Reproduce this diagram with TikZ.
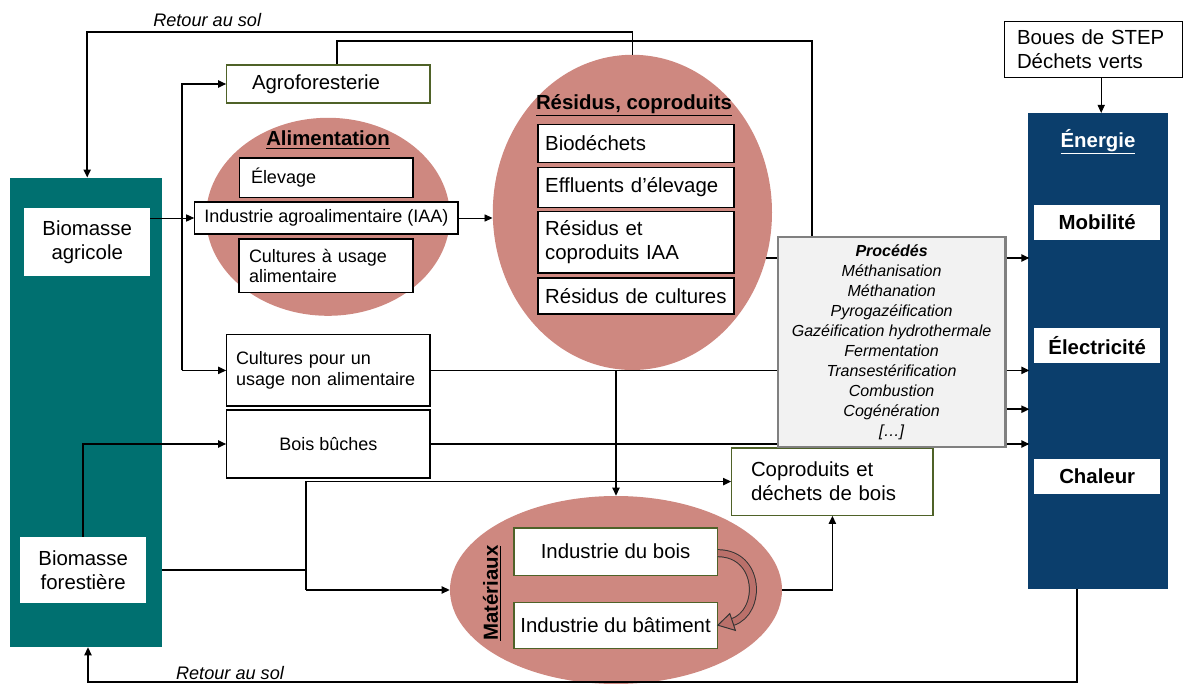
\documentclass[tikz,border=0pt]{standalone}
\usepackage{fontspec}
\setmainfont{Liberation Sans}
\usetikzlibrary{arrows.meta,positioning,shapes.geometric}

\definecolor{agriteal}{RGB}{0,112,112}
\definecolor{blobpink}{RGB}{206,136,128}
\definecolor{enernavy}{RGB}{11,62,108}
\definecolor{procgray}{RGB}{242,242,242}
\definecolor{procedge}{RGB}{128,128,128}
\definecolor{boxgreen}{RGB}{79,98,40}
\definecolor{curvpink}{RGB}{186,112,106}

\newcommand\mainsz{\fontsize{14.5}{17}\selectfont}
\newcommand\smallsz{\fontsize{12.8}{14.4}\selectfont}
\newcommand\procsz{\fontsize{11.4}{14.2}\selectfont}
\newcommand\retsz{\fontsize{12.9}{15}\selectfont}

\begin{document}
\begin{tikzpicture}[x=1cm,y=1cm]
\tikzset{
  pillar/.style={draw=none,inner sep=0pt},
  blob/.style={ellipse,fill=blobpink,draw=none,inner sep=0pt},
  whitebox/.style={fill=white,draw=none,align=center,font=\mainsz,inner sep=2pt},
  boxnode/.style={draw,line width=0.9pt,fill=white,align=left,font=\mainsz,inner sep=2pt},
  greenbox/.style={boxnode,draw=boxgreen},
  enerbox/.style={fill=white,draw=none,font=\mainsz\bfseries,minimum width=3.15cm,minimum height=0.88cm},
  titre/.style={font=\mainsz\bfseries,inner sep=1pt},
  retour/.style={font=\retsz\itshape,inner sep=1pt},
  flow/.style={-{Triangle[length=2mm,width=1.8mm]},line width=1.1pt},
  thinflow/.style={-{Triangle[length=2mm,width=1.8mm]},line width=0.6pt},
  link/.style={line width=1.1pt}
}
\useasboundingbox (0,0) rectangle (29.575,-17.10);

% colonnes
\node[pillar,fill=agriteal,minimum width=3.80cm,minimum height=11.73cm] (col) at (2.15,-10.31) {};
\node[pillar,fill=enernavy,minimum width=3.50cm,minimum height=11.90cm] (ener) at (27.45,-8.78) {};
\node[whitebox,minimum width=3.15cm,minimum height=1.70cm] (agri) at (2.18,-6.05) {Biomasse\\agricole};
\node[whitebox,minimum width=3.15cm,minimum height=1.65cm] (forest) at (2.08,-14.25) {Biomasse\\forestière};
\node[font=\mainsz\bfseries,text=white] (enertitle) at (27.45,-3.55) {\underline{Énergie}};
\node[enerbox] (mobil) at (27.43,-5.56) {Mobilité};
\node[enerbox] (elec) at (27.43,-8.64) {Électricité};
\node[enerbox] (chal) at (27.43,-11.91) {Chaleur};

% ellipses
\node[blob,minimum width=6.10cm,minimum height=4.95cm] (alim) at (8.20,-5.42) {};
\node[blob,minimum width=6.98cm,minimum height=7.88cm] (res) at (15.81,-5.31) {};
\node[blob,minimum width=8.30cm,minimum height=4.70cm] (mat) at (15.40,-14.75) {};
\node[titre] (alimtitle) at (8.20,-3.50) {\underline{Alimentation}};
\node[titre] (restitle) at (15.85,-2.63) {\underline{Résidus, coproduits}};
\node[titre,rotate=90] (mattitle) at (12.30,-14.83) {\underline{Matériaux}};

% boites
\node[greenbox,minimum width=5.08cm,minimum height=0.95cm,text width=3.82cm,inner xsep=0.63cm] (agro) at (8.21,-2.10) {Agroforesterie};
\node[boxnode,font=\smallsz,minimum width=4.33cm,minimum height=0.98cm,text width=3.77cm,inner xsep=0.28cm] (elev) at (8.16,-4.44) {Élevage};
\node[boxnode,font=\smallsz,minimum width=6.58cm,minimum height=0.80cm,align=center] (iaa) at (8.16,-5.45) {Industrie agroalimentaire (IAA)};
\node[boxnode,font=\smallsz,minimum width=4.35cm,minimum height=1.33cm,text width=3.85cm,inner xsep=0.25cm] (cualim) at (8.15,-6.64) {Cultures à usage\\alimentaire};
\node[boxnode,minimum width=4.90cm,minimum height=0.95cm,text width=4.54cm,inner xsep=0.18cm] (biod) at (15.90,-3.58) {Biodéchets};
\node[boxnode,minimum width=4.90cm,minimum height=1.00cm,text width=4.54cm,inner xsep=0.18cm] (effl) at (15.90,-4.68) {Effluents d’élevage};
\node[boxnode,minimum width=4.90cm,minimum height=1.53cm,text width=4.54cm,inner xsep=0.18cm] (resiaa) at (15.90,-6.06) {Résidus et\\coproduits IAA};
\node[boxnode,minimum width=4.90cm,minimum height=0.90cm,text width=4.54cm,inner xsep=0.18cm] (rescult) at (15.90,-7.40) {Résidus de cultures};
\node[boxnode,font=\smallsz,minimum width=5.08cm,minimum height=1.78cm,text width=4.62cm,inner xsep=0.23cm] (cnal) at (8.21,-9.26) {Cultures pour un\\usage non alimentaire};
\node[boxnode,font=\smallsz,minimum width=5.08cm,minimum height=1.70cm,align=center] (bois) at (8.21,-11.10) {Bois bûches};
\node[greenbox,minimum width=5.03cm,minimum height=1.68cm,text width=4.07cm,inner xsep=0.48cm] (copro) at (20.81,-12.04) {Coproduits et\\déchets de bois};
\node[greenbox,minimum width=5.08cm,minimum height=1.18cm,align=center] (indbois) at (15.39,-13.79) {Industrie du bois};
\node[greenbox,minimum width=5.08cm,minimum height=1.15cm,align=center] (indbat) at (15.39,-15.63) {Industrie du bâtiment};
\node[boxnode,minimum width=4.45cm,minimum height=1.40cm,text width=3.81cm,inner xsep=0.32cm] (boues) at (27.33,-1.23) {Boues de STEP\\Déchets verts};
\node[draw=procedge,line width=2pt,fill=procgray,font=\procsz\itshape,align=center,minimum width=5.68cm,minimum height=5.25cm,inner sep=1pt] (proc) at (22.29,-8.55)
  {\textbf{Procédés}\\Méthanisation\\Méthanation\\Pyrogazéification\\Gazéification hydrothermale\\Fermentation\\Transestérification\\Combustion\\Cogénération\\{[…]}};

% retour au sol (haut)
\coordinate (rtop) at (2.18,-0.80);
\draw[flow] (res.north) |- (rtop) -- (col.north -| rtop);
\node[retour] (rtoplab) at (5.18,-0.50) {Retour au sol};

% agroforesterie vers procedes
\coordinate (agup) at (8.43,-1.03);
\coordinate (prup) at (20.30,-1.03);
\draw[link] (agro.north -| agup) -- (agup) -- (prup) -- (proc.north -| prup);

% biomasse agricole
\coordinate (busx) at (4.55,0);
\draw[thinflow] (agri.east |- iaa.west) -- (iaa.west);
\draw[flow] (cnal.west -| busx) -- (agro.west -| busx) -- (agro.west);
\draw[flow] (cnal.west -| busx) -- (cnal.west);
\draw[thinflow] (iaa.east) -- (iaa.east -| res.west);

% residus, cultures, bois
\coordinate (resout) at (19.15,-6.45);
\draw[link] (resout) -- (resout -| proc.west);
\draw[flow] (mat.north |- res.south) -- (mat.north);
\draw[link] (cnal.east) -- (cnal.east -| proc.west);
\draw[link] (bois.east) -- (bois.east -| proc.west);
\foreach \dy in {2.10,-0.71,-1.68,-2.55}
  \draw[flow] ([yshift=\dy cm]proc.east) -- +(0.57,0);

% biomasse forestiere
\draw[flow] (forest.north) |- (bois.west);
\coordinate (fbus) at (7.65,0);
\draw[link] (col.east |- forest.east) -- (forest.east -| fbus);
\draw[flow] (mat.west -| fbus) -- (copro.west -| fbus) -- (copro.west);
\draw[flow] (mat.west -| fbus) -- (mat.west);
\draw[flow] (mat.east) -| (copro.south);

% fleche courbe bois -> batiment
\draw[line width=5.7pt,black!80] ([yshift=-0.04cm]indbois.east) .. controls +(1.07,0) and +(0.75,0.25) .. ([xshift=0.37cm,yshift=0.08cm]indbat.east);
\draw[line width=4.3pt,curvpink] ([yshift=-0.04cm]indbois.east) .. controls +(1.07,0) and +(0.75,0.25) .. ([xshift=0.37cm,yshift=0.08cm]indbat.east);
\filldraw[fill=curvpink,draw=black!80,line width=0.7pt] (indbat.east) -- ([xshift=0.30cm,yshift=0.29cm]indbat.east) -- ([xshift=0.44cm,yshift=-0.13cm]indbat.east) -- cycle;

% retour au sol (bas)
\coordinate (rbot) at (2.20,-17.05);
\draw[flow] ([xshift=-0.53cm]ener.south) |- (rbot) -- (col.south -| rbot);
\node[retour] (rbotlab) at (5.75,-16.83) {Retour au sol};

% boues
\coordinate (stepx) at (27.53,0);
\draw[thinflow] (boues.south -| stepx) -- (ener.north -| stepx);
\end{tikzpicture}
\end{document}
